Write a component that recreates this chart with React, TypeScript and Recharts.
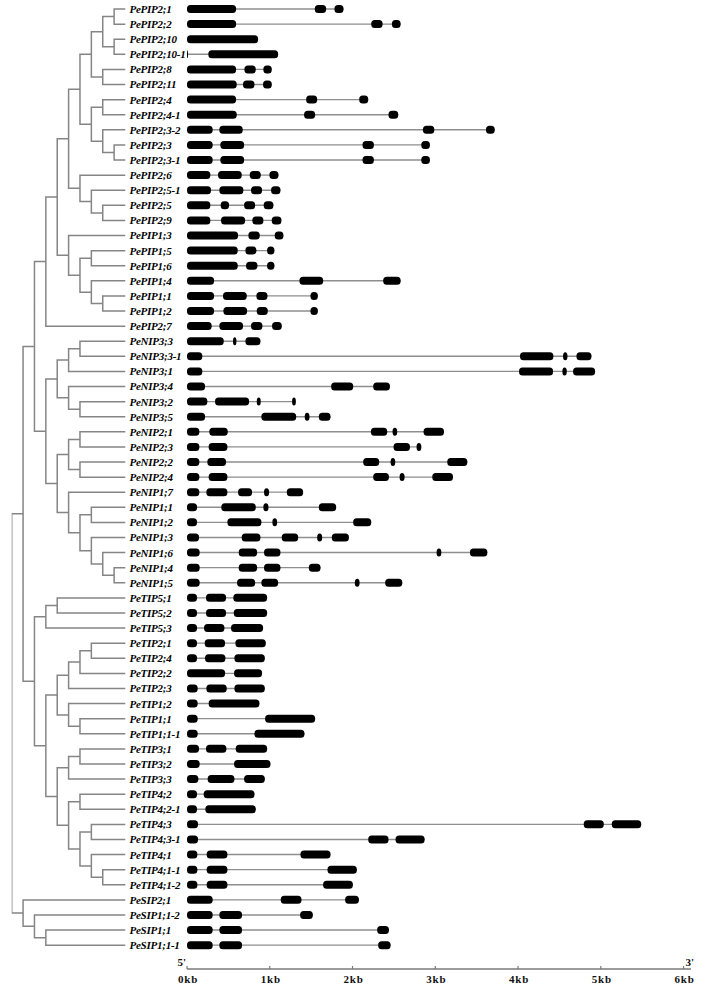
import React from "react";
import { ComposedChart, Line, Bar, XAxis, YAxis } from "recharts";

const FONT = '"Liberation Serif", "Times New Roman", serif';

// gene names, top to bottom
const genes = [
  "PePIP2;1", "PePIP2;2", "PePIP2;10", "PePIP2;10-1", "PePIP2;8", "PePIP2;11",
  "PePIP2;4", "PePIP2;4-1", "PePIP2;3-2", "PePIP2;3", "PePIP2;3-1", "PePIP2;6",
  "PePIP2;5-1", "PePIP2;5", "PePIP2;9", "PePIP1;3", "PePIP1;5", "PePIP1;6",
  "PePIP1;4", "PePIP1;1", "PePIP1;2", "PePIP2;7", "PeNIP3;3", "PeNIP3;3-1",
  "PeNIP3;1", "PeNIP3;4", "PeNIP3;2", "PeNIP3;5", "PeNIP2;1", "PeNIP2;3",
  "PeNIP2;2", "PeNIP2;4", "PeNIP1;7", "PeNIP1;1", "PeNIP1;2", "PeNIP1;3",
  "PeNIP1;6", "PeNIP1;4", "PeNIP1;5", "PeTIP5;1", "PeTIP5;2", "PeTIP5;3",
  "PeTIP2;1", "PeTIP2;4", "PeTIP2;2", "PeTIP2;3", "PeTIP1;2", "PeTIP1;1",
  "PeTIP1;1-1", "PeTIP3;1", "PeTIP3;2", "PeTIP3;3", "PeTIP4;2", "PeTIP4;2-1",
  "PeTIP4;3", "PeTIP4;3-1", "PeTIP4;1", "PeTIP4;1-1", "PeTIP4;1-2", "PeSIP2;1",
  "PeSIP1;1-2", "PeSIP1;1", "PeSIP1;1-1",
];

// exons as [start, end] in kb, same order as genes
const exons: number[][][] = [
  [[0, 0.593], [1.544, 1.681], [1.782, 1.891]],
  [[0, 0.593], [2.226, 2.363], [2.476, 2.581]],
  [[0, 0.859]],
  [[0, 0.012], [0.258, 1.101]],
  [[0, 0.593], [0.694, 0.831], [0.923, 1.024]],
  [[0, 0.601], [0.677, 0.815], [0.919, 1.024]],
  [[0, 0.593], [1.44, 1.573], [2.081, 2.19]],
  [[0, 0.601], [1.415, 1.548], [2.435, 2.552]],
  [[0, 0.31], [0.391, 0.673], [2.851, 2.988], [3.613, 3.718]],
  [[0, 0.31], [0.403, 0.69], [2.121, 2.258], [2.831, 2.935]],
  [[0, 0.31], [0.403, 0.69], [2.121, 2.258], [2.831, 2.935]],
  [[0, 0.282], [0.375, 0.661], [0.758, 0.891], [0.996, 1.105]],
  [[0, 0.29], [0.391, 0.681], [0.774, 0.907], [1.016, 1.129]],
  [[0, 0.282], [0.407, 0.508], [0.69, 0.823], [0.927, 1.044]],
  [[0, 0.282], [0.411, 0.702], [0.79, 0.923], [1.024, 1.141]],
  [[0, 0.617], [0.742, 0.879], [1.06, 1.165]],
  [[0, 0.613], [0.706, 0.839], [0.968, 1.056]],
  [[0, 0.613], [0.714, 0.851], [0.968, 1.056]],
  [[0, 0.327], [1.359, 1.645], [2.371, 2.581]],
  [[0, 0.327], [0.435, 0.722], [0.839, 0.972], [1.492, 1.581]],
  [[0, 0.327], [0.44, 0.726], [0.843, 0.976], [1.492, 1.581]],
  [[0, 0.298], [0.391, 0.677], [0.774, 0.911], [1.028, 1.145]],
  [[0, 0.444], [0.556, 0.597], [0.706, 0.887]],
  [[0, 0.185], [4.024, 4.427], [4.544, 4.597], [4.706, 4.887]],
  [[0, 0.185], [4.012, 4.423], [4.536, 4.589], [4.665, 4.931]],
  [[0, 0.218], [1.742, 2.008], [2.25, 2.452]],
  [[0, 0.246], [0.339, 0.75], [0.843, 0.891], [1.27, 1.315]],
  [[0, 0.218], [0.899, 1.319], [1.423, 1.48], [1.593, 1.734]],
  [[0, 0.149], [0.27, 0.492], [2.222, 2.419], [2.484, 2.54], [2.859, 3.105]],
  [[0, 0.149], [0.262, 0.488], [2.496, 2.694], [2.774, 2.831]],
  [[0, 0.149], [0.246, 0.472], [2.129, 2.323], [2.46, 2.516], [3.145, 3.387]],
  [[0, 0.149], [0.262, 0.488], [2.25, 2.44], [2.569, 2.629], [2.964, 3.214]],
  [[0, 0.149], [0.234, 0.488], [0.617, 0.786], [0.931, 0.992], [1.206, 1.403]],
  [[0, 0.121], [0.415, 0.831], [0.923, 0.984], [1.593, 1.802]],
  [[0, 0.121], [0.488, 0.899], [1.032, 1.089], [2.008, 2.226]],
  [[0, 0.145], [0.661, 0.887], [1.145, 1.343], [1.573, 1.633], [1.75, 1.956]],
  [[0, 0.153], [0.625, 0.847], [0.931, 1.129], [3.016, 3.073], [3.419, 3.629]],
  [[0, 0.153], [0.625, 0.847], [0.931, 1.129], [1.472, 1.613]],
  [[0, 0.153], [0.605, 0.823], [0.899, 1.101], [2.028, 2.085], [2.395, 2.601]],
  [[0, 0.121], [0.23, 0.472], [0.56, 0.968]],
  [[0, 0.121], [0.23, 0.472], [0.565, 0.968]],
  [[0, 0.121], [0.206, 0.452], [0.532, 0.919]],
  [[0, 0.121], [0.214, 0.46], [0.585, 0.952]],
  [[0, 0.121], [0.218, 0.464], [0.573, 0.94]],
  [[0, 0.46], [0.569, 0.907]],
  [[0, 0.129], [0.234, 0.48], [0.573, 0.94]],
  [[0, 0.129], [0.262, 0.875]],
  [[0, 0.129], [0.944, 1.548]],
  [[0, 0.129], [0.815, 1.419]],
  [[0, 0.145], [0.23, 0.476], [0.589, 0.968]],
  [[0, 0.153], [0.569, 1.008]],
  [[0, 0.137], [0.25, 0.573], [0.69, 0.94]],
  [[0, 0.121], [0.202, 0.815]],
  [[0, 0.121], [0.222, 0.831]],
  [[0, 0.133], [4.794, 5.036], [5.133, 5.488]],
  [[0, 0.133], [2.19, 2.435], [2.52, 2.871]],
  [[0, 0.125], [0.238, 0.488], [1.371, 1.734]],
  [[0, 0.125], [0.238, 0.488], [1.698, 2.052]],
  [[0, 0.125], [0.238, 0.488], [1.645, 2.004]],
  [[0, 0.31], [1.133, 1.383], [1.911, 2.077]],
  [[0, 0.31], [0.391, 0.665], [1.367, 1.52]],
  [[0, 0.31], [0.391, 0.665], [2.298, 2.44]],
  [[0, 0.31], [0.391, 0.665], [2.31, 2.46]],
];

// tree: [node, level, child, child], children listed before parents; tips sit at TIP
const TIP = 10;
const clades: [string, number, string, string][] = [
  ["a", 9, "PePIP2;1", "PePIP2;2"],
  ["b", 9, "PePIP2;10", "PePIP2;10-1"],
  ["ab", 8, "a", "b"],
  ["c", 8, "PePIP2;8", "PePIP2;11"],
  ["abc", 7, "ab", "c"],
  ["d", 8, "PePIP2;4", "PePIP2;4-1"],
  ["e", 9, "PePIP2;3", "PePIP2;3-1"],
  ["e2", 8, "PePIP2;3-2", "e"],
  ["de", 7, "d", "e2"],
  ["pip2a", 6, "abc", "de"],
  ["f", 8, "PePIP2;5", "PePIP2;9"],
  ["g", 7, "PePIP2;5-1", "f"],
  ["h", 6, "PePIP2;6", "g"],
  ["pip2", 5, "pip2a", "h"],
  ["j", 7, "PePIP1;5", "PePIP1;6"],
  ["k", 8, "PePIP1;1", "PePIP1;2"],
  ["l", 7, "PePIP1;4", "k"],
  ["m", 6, "j", "l"],
  ["pip1", 5, "PePIP1;3", "m"],
  ["o", 4, "pip2", "pip1"],
  ["pip", 3, "o", "PePIP2;7"],
  ["r", 6, "PeNIP3;3", "PeNIP3;3-1"],
  ["s", 5, "r", "PeNIP3;1"],
  ["t", 6, "PeNIP3;2", "PeNIP3;5"],
  ["u", 5, "PeNIP3;4", "t"],
  ["nip3", 4, "s", "u"],
  ["w", 6, "PeNIP2;1", "PeNIP2;3"],
  ["x", 6, "PeNIP2;2", "PeNIP2;4"],
  ["nip2", 5, "w", "x"],
  ["y", 7, "PeNIP1;1", "PeNIP1;2"],
  ["z", 9, "PeNIP1;4", "PeNIP1;5"],
  ["aa", 8, "PeNIP1;6", "z"],
  ["bb", 7, "PeNIP1;3", "aa"],
  ["cc", 6, "y", "bb"],
  ["nip1", 5, "PeNIP1;7", "cc"],
  ["nip12", 4, "nip2", "nip1"],
  ["nip", 3, "nip3", "nip12"],
  ["pn", 2, "pip", "nip"],
  ["t5a", 4, "PeTIP5;1", "PeTIP5;2"],
  ["tip5", 3, "t5a", "PeTIP5;3"],
  ["t2a", 7, "PeTIP2;1", "PeTIP2;4"],
  ["t2b", 6, "t2a", "PeTIP2;2"],
  ["tip2", 5, "t2b", "PeTIP2;3"],
  ["t1a", 6, "PeTIP1;1", "PeTIP1;1-1"],
  ["tip1", 5, "PeTIP1;2", "t1a"],
  ["tip12", 4, "tip2", "tip1"],
  ["t3a", 6, "PeTIP3;1", "PeTIP3;2"],
  ["tip3", 5, "t3a", "PeTIP3;3"],
  ["t4a", 6, "PeTIP4;2", "PeTIP4;2-1"],
  ["t4b", 7, "PeTIP4;3", "PeTIP4;3-1"],
  ["t4c", 8, "PeTIP4;1-1", "PeTIP4;1-2"],
  ["t4d", 7, "PeTIP4;1", "t4c"],
  ["t4e", 6, "t4b", "t4d"],
  ["tip4", 5, "t4a", "t4e"],
  ["tip34", 4, "tip3", "tip4"],
  ["tip1234", 3, "tip12", "tip34"],
  ["tip", 2, "tip5", "tip1234"],
  ["pnt", 1, "pn", "tip"],
  ["s1a", 3, "PeSIP1;1", "PeSIP1;1-1"],
  ["sip1", 2, "PeSIP1;1-2", "s1a"],
  ["sip", 1, "PeSIP2;1", "sip1"],
  ["root", 0, "pnt", "sip"],
];

const kbTicks = [0, 1, 2, 3, 4, 5, 6];

// rows for the gene structure bars
const rows = genes.map((name, i) => {
  const ex = exons[i];
  const row: Record<string, any> = { name, span: [0, ex[ex.length - 1][1]] };
  ex.forEach((e, k) => (row[`e${k}`] = e));
  return row;
});
const maxExons = Math.max(...exons.map((e) => e.length));

// node positions: y = row index, x = level
const nodeY: Record<string, number> = {};
const nodeLevel: Record<string, number> = {};
genes.forEach((g, i) => {
  nodeY[g] = i;
  nodeLevel[g] = TIP;
});
clades.forEach(([id, lvl, a, b]) => {
  nodeLevel[id] = lvl;
  nodeY[id] = (nodeY[a] + nodeY[b]) / 2;
});

// one bracket per clade, broken apart by null points
const treePoints = clades.flatMap(([, lvl, a, b]) => [
  { x: nodeLevel[a], y: nodeY[a] },
  { x: lvl, y: nodeY[a] },
  { x: lvl, y: nodeY[b] },
  { x: nodeLevel[b], y: nodeY[b] },
  { x: lvl, y: null },
]);

const W = 719;
const H = 988;
const TOP = 1.5;
const AXIS_H = 19;
const PAD = { top: 0, bottom: 16.25 };

function ok(...v: number[]) {
  return v.every((n) => Number.isFinite(n));
}

function Intron(props: any) {
  const { x, y, width, height } = props;
  if (!ok(x, y, width, height) || width <= 0) return null;
  const cy = y + height / 2;
  return <line x1={x} x2={x + width} y1={cy} y2={cy} stroke="#8e8e8e" strokeWidth={1.4} />;
}

function Exon(props: any) {
  const { x, y, width, height } = props;
  if (!ok(x, y, width, height) || width <= 0) return null;
  return (
    <rect x={x} y={y + 0.5} width={Math.max(width, 1)} height={height - 1} rx={3.5} ry={3.5} fill="#000" />
  );
}

function KbTick(props: any) {
  const { x, y, payload } = props;
  const first = payload.value === kbTicks[0];
  const last = payload.value === kbTicks[kbTicks.length - 1];
  const txt = { fontFamily: FONT, fontWeight: 700, fontSize: 11, fill: "#111" };
  return (
    <g>
      <line x1={x} x2={x} y1={y} y2={y - 3} stroke="#7a7a7a" strokeWidth={1.2} />
      <text x={x + 1} y={y + 14} textAnchor="middle" letterSpacing={0.8} {...txt}>
        {`${payload.value}kb`}
      </text>
      {first && (
        <text x={x - 1} y={y - 3} textAnchor="end" {...txt}>
          5'
        </text>
      )}
      {last && (
        <text x={x + 2} y={y - 3} textAnchor="start" {...txt}>
          3'
        </text>
      )}
    </g>
  );
}

function TreeChart() {
  return (
    <ComposedChart width={W} height={H} margin={{ top: TOP, right: W - 125.5 - 60, bottom: AXIS_H, left: 11.7 }}>
      <XAxis type="number" dataKey="x" domain={[0, TIP]} allowDataOverflow hide />
      <YAxis
        type="number"
        orientation="right"
        domain={[-0.5, genes.length - 0.5]}
        allowDataOverflow
        reversed
        ticks={genes.map((_, i) => i)}
        interval={0}
        tickFormatter={(i: number) => genes[i]}
        width={60}
        axisLine={false}
        tickLine={false}
        tickSize={2}
        tickMargin={2}
        padding={PAD}
        tick={{
          fill: "#000",
          fontSize: 11,
          fontWeight: 700,
          fontStyle: "italic",
          fontFamily: FONT,
          letterSpacing: -0.25,
        }}
      />
      <Line
        data={treePoints}
        dataKey="y"
        type="linear"
        stroke="#858585"
        strokeWidth={1.5}
        dot={false}
        activeDot={false}
        connectNulls={false}
        isAnimationActive={false}
      />
    </ComposedChart>
  );
}

function GeneChart() {
  return (
    <ComposedChart
      layout="vertical"
      width={W}
      height={H}
      data={rows}
      margin={{ top: TOP, right: 28, bottom: 0, left: 187 }}
      barSize={9}
      barGap={-9}
    >
      <XAxis
        type="number"
        domain={[0, 6.09]}
        allowDataOverflow
        ticks={kbTicks}
        interval={0}
        height={AXIS_H}
        axisLine={{ stroke: "#7a7a7a", strokeWidth: 1.5 }}
        tickLine={false}
        tickSize={0}
        tickMargin={0}
        tick={(p: any) => <KbTick {...p} />}
      />
      <YAxis type="category" dataKey="name" hide padding={PAD} />
      <Bar dataKey="span" barSize={9} shape={(p: any) => <Intron {...p} />} isAnimationActive={false} />
      {Array.from({ length: maxExons }, (_, k) => (
        <Bar
          key={k}
          dataKey={`e${k}`}
          barSize={9}
          shape={(p: any) => <Exon {...p} />}
          isAnimationActive={false}
        />
      ))}
    </ComposedChart>
  );
}

export default function App() {
  return (
    <div style={{ position: "absolute", left: 0, top: 0, width: W, height: H, background: "#fff" }}>
      <div style={{ position: "absolute", left: 0, top: 0 }}>
        <TreeChart />
      </div>
      <div style={{ position: "absolute", left: 0, top: 0 }}>
        <GeneChart />
      </div>
    </div>
  );
}
